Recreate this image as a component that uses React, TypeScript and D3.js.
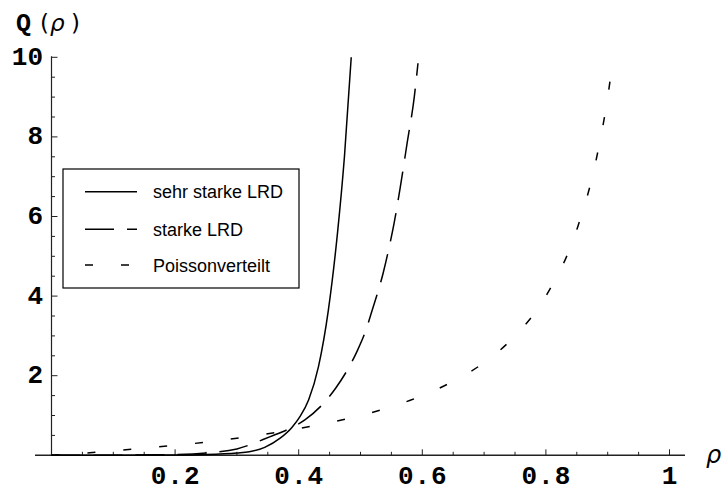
import React from "react";
import * as d3 from "d3";

const rhoSolid = [0, 0.1, 0.2, 0.25, 0.3, 0.32, 0.345, 0.37, 0.389, 0.402, 0.416, 0.432, 0.448, 0.463, 0.474, 0.485];
const qSolid = [0, 0, 0.005, 0.02, 0.06, 0.09, 0.2, 0.43, 0.7, 0.97, 1.39, 2.23, 3.65, 5.62, 7.5, 10.0];

const rhoLong = [0, 0.1, 0.2, 0.25, 0.3, 0.354, 0.389, 0.41, 0.445, 0.46, 0.494, 0.507, 0.519, 0.537, 0.546, 0.554, 0.564, 0.576, 0.587, 0.593];
const qLong = [0, 0.002, 0.02, 0.06, 0.16, 0.47, 0.7, 0.89, 1.39, 1.69, 2.6, 3.07, 3.65, 4.6, 5.2, 5.8, 6.7, 7.9, 9.0, 9.85];

const rhoPoisson = [0, 0.05, 0.1, 0.15, 0.2, 0.25, 0.3, 0.35, 0.4, 0.45, 0.5, 0.55, 0.6, 0.65, 0.7, 0.75, 0.8, 0.85, 0.88, 0.9, 0.909];
const qPoisson = [0, 0.05, 0.11, 0.18, 0.25, 0.33, 0.43, 0.54, 0.67, 0.82, 1.0, 1.22, 1.5, 1.86, 2.33, 3.0, 4.0, 5.67, 7.33, 9.0, 10.0];

const xTicks = [0.2, 0.4, 0.6, 0.8, 1];
const xTickLabels = ["0.2", "0.4", "0.6", "0.8", "1"];
const yTicks = [2, 4, 6, 8, 10];
const yTickLabels = ["2", "4", "6", "8", "10"];

const seriesNames = ["sehr starke LRD", "starke LRD", "Poissonverteilt"];
const seriesDash = ["none", "29,13", "8,28"];

export default function App() {
  const x = d3.scaleLinear().domain([0, 1]).range([51.5, 669.5]);
  const y = d3.scaleLinear().domain([0, 10]).range([455.3, 57.3]);

  const line = d3
    .line<[number, number]>()
    .x((d) => x(d[0]))
    .y((d) => y(d[1]))
    .curve(d3.curveMonotoneX);

  const series = [
    rhoSolid.map((r, i) => [r, qSolid[i]] as [number, number]),
    rhoLong.map((r, i) => [r, qLong[i]] as [number, number]),
    rhoPoisson.map((r, i) => [r, qPoisson[i]] as [number, number]),
  ];

  const xMinor = d3.range(1, 21).map((i) => i * 0.05).filter((v) => Math.abs(v * 5 - Math.round(v * 5)) > 1e-6);
  const yMinor = d3.range(1, 20).map((i) => i * 0.5).filter((v) => Math.abs(v / 2 - Math.round(v / 2)) > 1e-6);

  const tickFont = "'Liberation Mono', 'Courier New', monospace";
  const axisColor = "#222";
  const legendX = 63;
  const legendY = 169;
  const rowY = [191.7, 229.3, 265];

  return (
    <svg
      width={724}
      height={491}
      style={{ position: "absolute", left: 0, top: 0, background: "#fff" }}
    >
      <rect x={0} y={0} width={724} height={491} fill="#fff" />
      {/* axes */}
      <line x1={35} x2={685} y1={y(0)} y2={y(0)} stroke={axisColor} strokeWidth={1.6} />
      <line x1={x(0)} x2={x(0)} y1={y(10) - 1} y2={y(0)} stroke={axisColor} strokeWidth={1.2} />
      {xTicks.map((t, i) => (
        <g key={"xt" + i}>
          <line x1={x(t)} x2={x(t)} y1={y(0)} y2={y(0) - 6} stroke={axisColor} strokeWidth={1} />
          <text
            x={x(t) + 0.5}
            y={483.5}
            textAnchor="middle"
            fontFamily={tickFont}
            fontWeight="bold"
            fontSize={26}
            letterSpacing={1}
          >
            {xTickLabels[i]}
          </text>
        </g>
      ))}
      {xMinor.map((t, i) => (
        <line key={"xm" + i} x1={x(t)} x2={x(t)} y1={y(0)} y2={y(0) - 3.5} stroke={axisColor} strokeWidth={1} />
      ))}
      {yTicks.map((t, i) => (
        <g key={"yt" + i}>
          <line x1={x(0)} x2={x(0) + 6} y1={y(t)} y2={y(t)} stroke={axisColor} strokeWidth={1} />
          <text
            x={43}
            y={y(t) + 7.5}
            textAnchor="end"
            fontFamily={tickFont}
            fontWeight="bold"
            fontSize={26}
          >
            {yTickLabels[i]}
          </text>
        </g>
      ))}
      {yMinor.map((t, i) => (
        <line key={"ym" + i} x1={x(0)} x2={x(0) + 3.5} y1={y(t)} y2={y(t)} stroke={axisColor} strokeWidth={1} />
      ))}

      {/* axis labels */}
      <text x={16} y={31} fontFamily={tickFont} fontWeight="bold" fontSize={25}>
        Q
      </text>
      <text x={40} y={31} fontFamily="'DejaVu Sans', sans-serif" fontSize={23}>
        (
      </text>
      <text x={50} y={31} fontFamily="'DejaVu Sans', sans-serif" fontStyle="italic" fontSize={23}>
        ρ
      </text>
      <text x={71} y={31} fontFamily="'DejaVu Sans', sans-serif" fontSize={23}>
        )
      </text>
      <text x={706} y={463} fontFamily="'DejaVu Sans', sans-serif" fontStyle="italic" fontSize={24}>
        ρ
      </text>

      {/* curves */}
      {series.map((s, i) => (
        <path
          key={"s" + i}
          d={line(s) || ""}
          fill="none"
          stroke="#000"
          strokeWidth={1.5}
          strokeDasharray={seriesDash[i]}
        />
      ))}

      {/* legend */}
      <rect x={legendX} y={legendY} width={236} height={119} fill="#fff" stroke="#000" strokeWidth={1.2} />
      {seriesNames.map((n, i) => (
        <g key={"lg" + i}>
          <line
            x1={85}
            x2={137}
            y1={rowY[i]}
            y2={rowY[i]}
            stroke="#000"
            strokeWidth={1.5}
            strokeDasharray={seriesDash[i]}
          />
          <text x={153} y={rowY[i] + 6.5} fontFamily="'Liberation Sans', Arial, sans-serif" fontSize={18}>
            {n}
          </text>
        </g>
      ))}
    </svg>
  );
}
